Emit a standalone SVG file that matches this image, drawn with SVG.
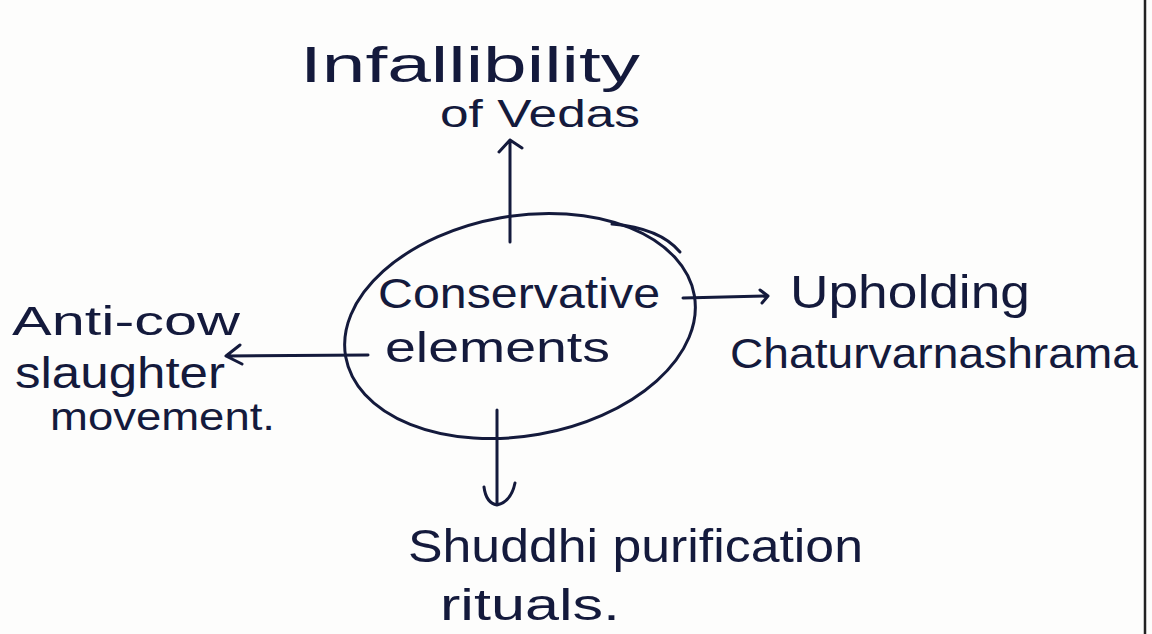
<svg xmlns="http://www.w3.org/2000/svg" width="1152" height="634" viewBox="0 0 1152 634">
<style>
.t{font-family:"Liberation Sans",Arial,sans-serif;fill:#141a3c;}
.ln{stroke:#141a3c;stroke-width:3;fill:none;stroke-linecap:round;stroke-linejoin:round;}
</style>
<rect width="1152" height="634" fill="#fdfdfc"/>
<line x1="1145" y1="0" x2="1145" y2="634" stroke="#222" stroke-width="2.5"/>
<g id="center">
<ellipse cx="520" cy="326" rx="177" ry="110" transform="rotate(-10 520 326)" class="ln"/>
<path d="M612 224 Q660 228 680 252" class="ln" stroke-width="2"/>
<text class="t" x="378" y="308" font-size="42" textLength="282" lengthAdjust="spacingAndGlyphs">Conservative</text>
<text class="t" x="385" y="362" font-size="42" textLength="225" lengthAdjust="spacingAndGlyphs">elements</text>
</g>
<g id="top">
<text class="t" x="300" y="82" font-size="50" textLength="340" lengthAdjust="spacingAndGlyphs">Infallibility</text>
<text class="t" x="440" y="127" font-size="38" textLength="200" lengthAdjust="spacingAndGlyphs">of Vedas</text>
</g>
<g id="left">
<text class="t" x="12" y="335" font-size="40" textLength="228" lengthAdjust="spacingAndGlyphs">Anti-cow</text>
<text class="t" x="15" y="388" font-size="44" textLength="210" lengthAdjust="spacingAndGlyphs">slaughter</text>
<text class="t" x="50" y="430" font-size="38" textLength="225" lengthAdjust="spacingAndGlyphs">movement.</text>
</g>
<g id="right">
<text class="t" x="790" y="308" font-size="46" textLength="240" lengthAdjust="spacingAndGlyphs">Upholding</text>
<text class="t" x="730" y="368" font-size="42" textLength="408" lengthAdjust="spacingAndGlyphs">Chaturvarnashrama</text>
</g>
<g id="bottom">
<text class="t" x="408" y="562" font-size="46" textLength="455" lengthAdjust="spacingAndGlyphs">Shuddhi purification</text>
<text class="t" x="440" y="620" font-size="44" textLength="180" lengthAdjust="spacingAndGlyphs">rituals.</text>
</g>
<g id="connectors">
<path d="M510 242 L510 140 M499 152 L510 140 L522 148" class="ln"/>
<path d="M368 355 L226 356 M240 345 L226 356 L242 364" class="ln"/>
<path d="M683 298 L768 296 M760 290 L768 296 L762 303" class="ln"/>
<path d="M497 410 L497 505 M484 487 Q486 503 497 505 Q511 502 515 483" class="ln"/>
</g>
</svg>
